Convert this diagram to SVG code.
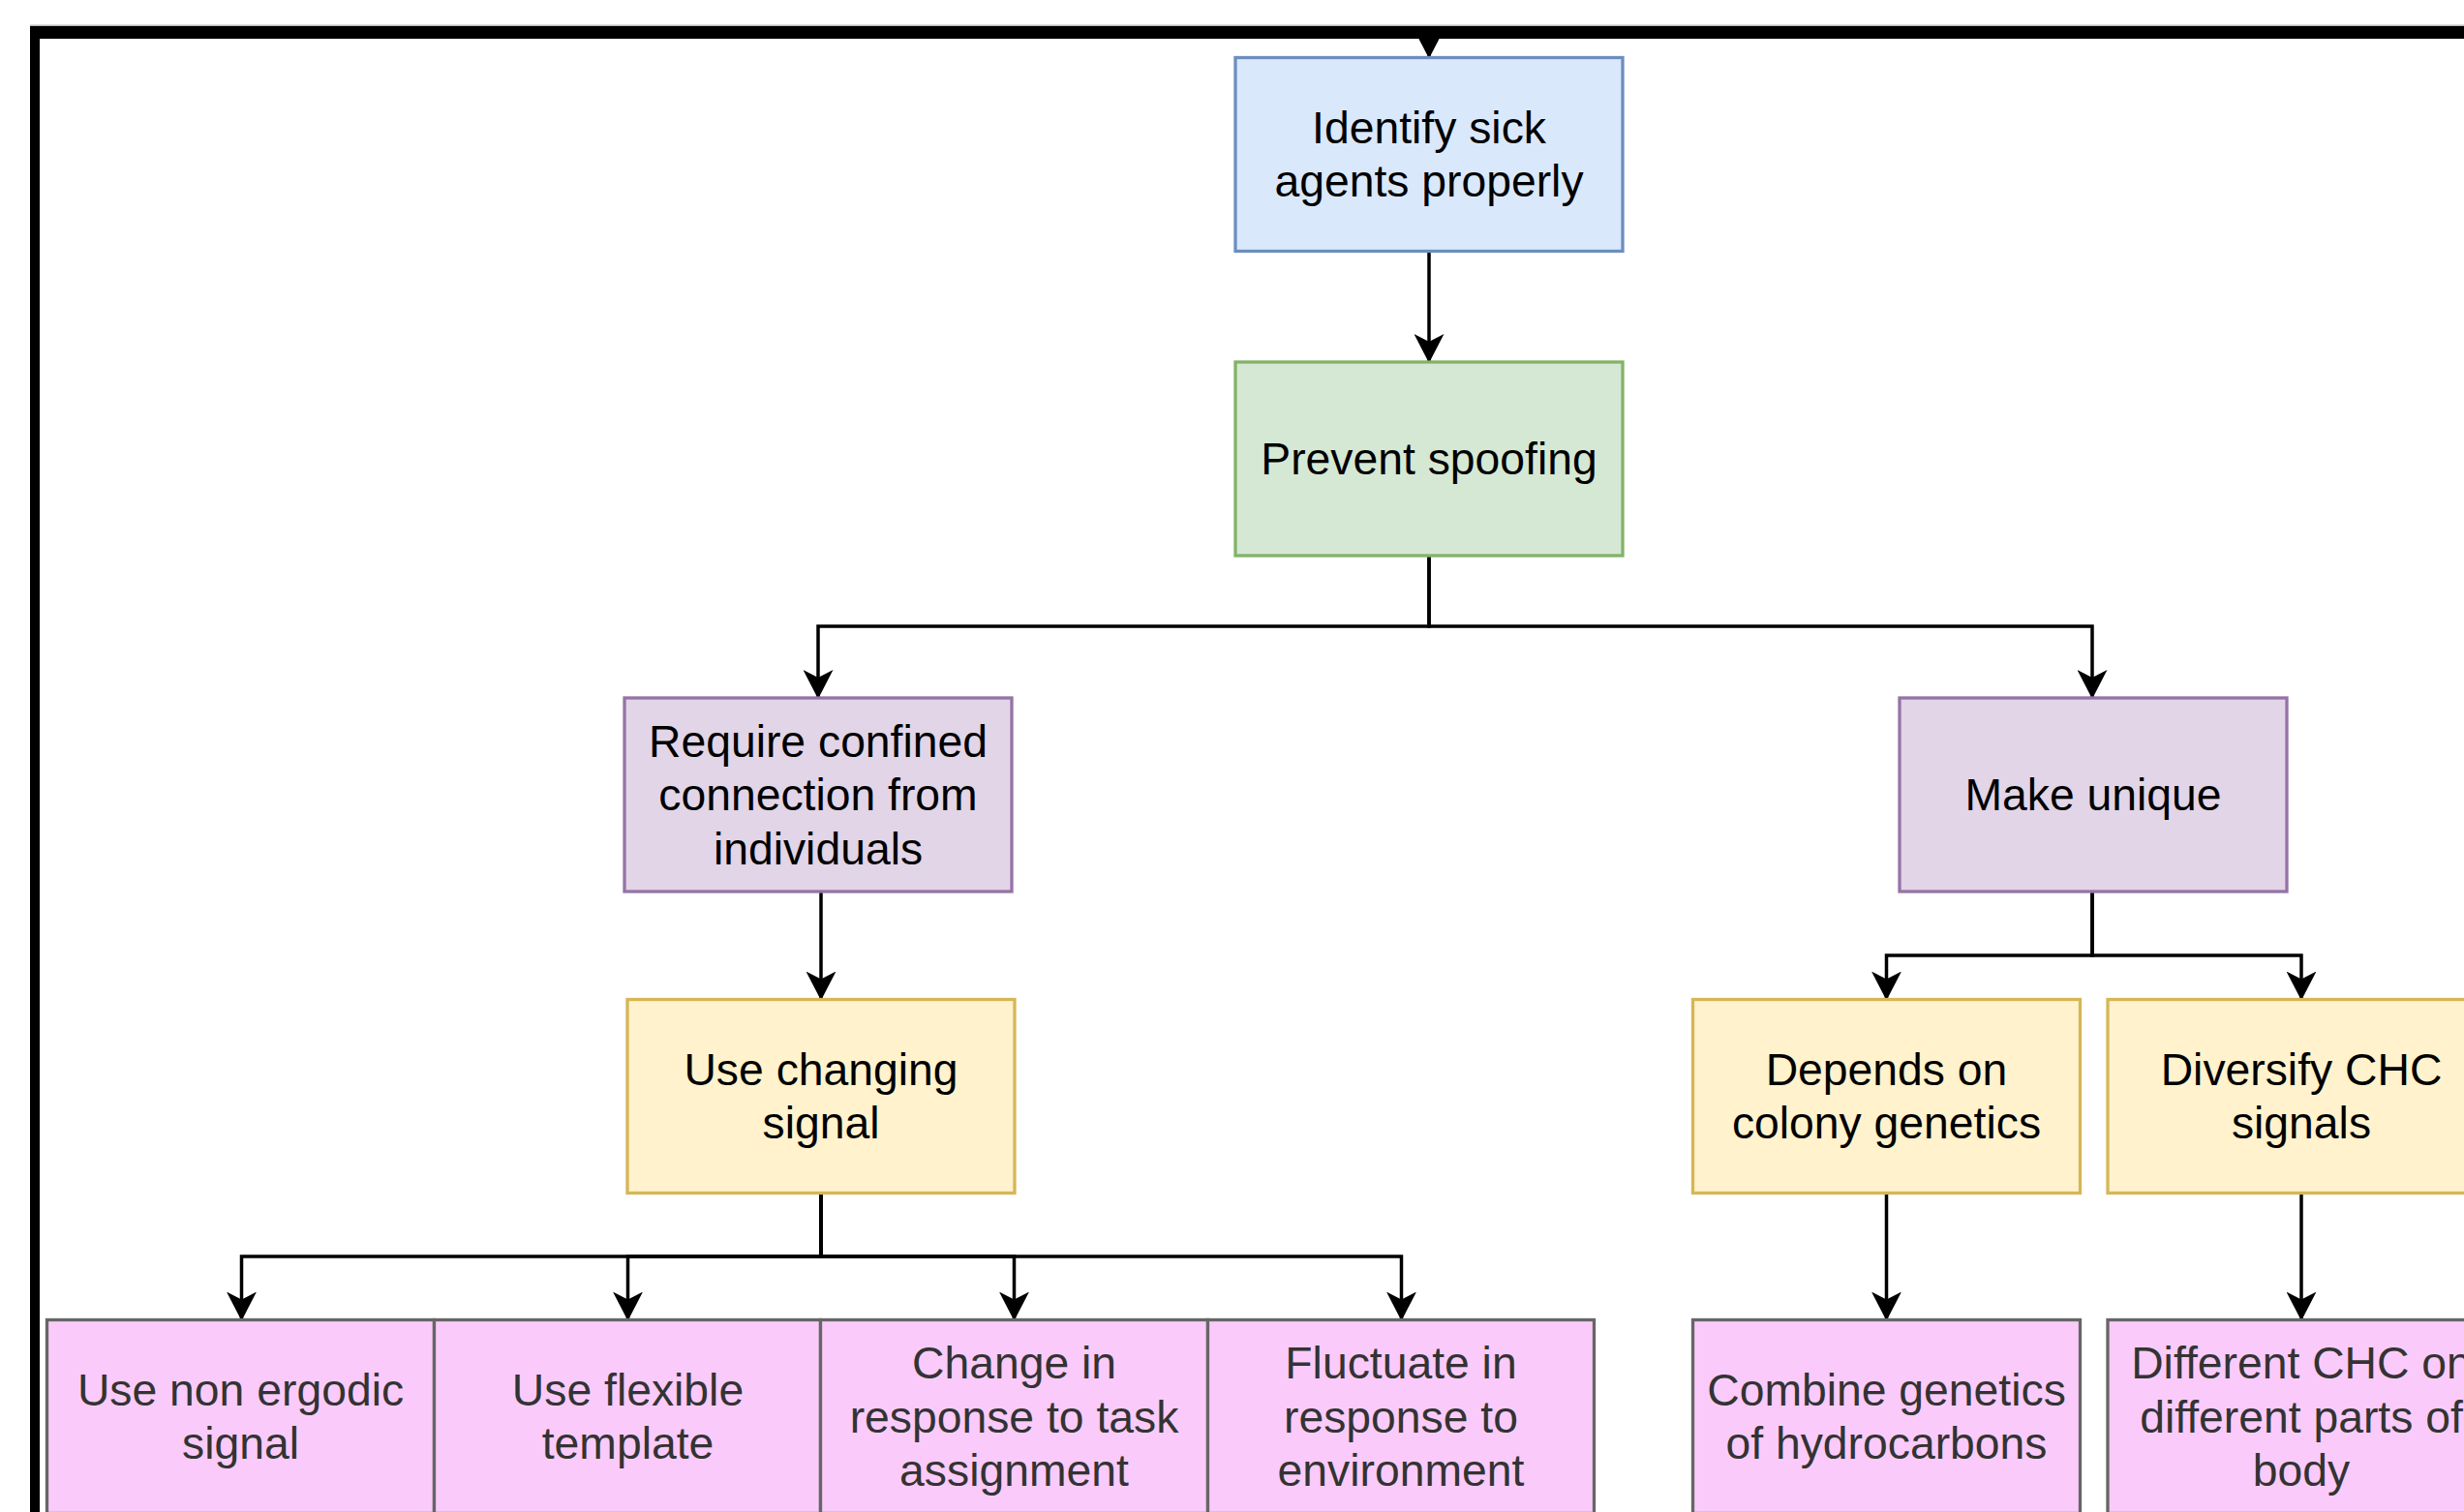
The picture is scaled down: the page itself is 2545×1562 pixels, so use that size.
<svg xmlns="http://www.w3.org/2000/svg" width="2545" height="1562" viewBox="0 0 2545 1562">
<style>
  .box { stroke-width: 3.3; }
  .blue { fill: #dae8fc; stroke: #6c8ebf; }
  .green { fill: #d5e8d4; stroke: #82b366; }
  .purple { fill: #e1d5e7; stroke: #9673a6; }
  .yellow { fill: #fff2cc; stroke: #d6b656; }
  .pink { fill: #facbfa; stroke: #666666; }
  .lbl { font-family: "Liberation Sans", Arial, Helvetica, sans-serif; font-size: 46.3px; text-anchor: middle; fill: #000000; }
  .lbl.dark { fill: #333333; }
  .edge { fill: none; stroke: #000000; stroke-width: 3.5; stroke-linejoin: miter; }
</style>
<defs>
  <marker id="arrow" markerUnits="userSpaceOnUse" markerWidth="30" markerHeight="31" viewBox="0 0 30 31" refX="29" refY="15.5" orient="auto">
    <path d="M30,15.5 L0,0 L8,15.5 L0,31 Z" fill="#000000"/>
  </marker>
</defs>
<rect x="0" y="0" width="2545" height="1562" fill="#ffffff"/>

<g id="connectors">
  <path class="edge" d="M1476,42 V59.5" marker-end="url(#arrow)"/>
  <path class="edge" d="M1476,259.5 V374" marker-end="url(#arrow)"/>
  <path class="edge" d="M1476,574 V647 H845 V721" marker-end="url(#arrow)"/>
  <path class="edge" d="M1476,574 V647 H2161 V721" marker-end="url(#arrow)"/>
  <path class="edge" d="M848,921 V1032.5" marker-end="url(#arrow)"/>
  <path class="edge" d="M2161,921 V987 H1948.5 V1032.5" marker-end="url(#arrow)"/>
  <path class="edge" d="M2161,921 V987 H2377 V1032.5" marker-end="url(#arrow)"/>
  <path class="edge" d="M848,1232.5 V1298 H249.5 V1363.5" marker-end="url(#arrow)"/>
  <path class="edge" d="M848,1232.5 V1298 H648.5 V1363.5" marker-end="url(#arrow)"/>
  <path class="edge" d="M848,1232.5 V1298 H1047.5 V1363.5" marker-end="url(#arrow)"/>
  <path class="edge" d="M848,1232.5 V1298 H1447.5 V1363.5" marker-end="url(#arrow)"/>
  <path class="edge" d="M1948.5,1232.5 V1363.5" marker-end="url(#arrow)"/>
  <path class="edge" d="M2377,1232.5 V1363.5" marker-end="url(#arrow)"/>
</g>

<g id="identify">
  <rect class="box blue" x="1276" y="59.5" width="400" height="200"/>
  <text class="lbl"><tspan x="1476" y="147.8">Identify sick</tspan><tspan x="1476" y="203.3">agents properly</tspan></text>
</g>
<g id="prevent">
  <rect class="box green" x="1276" y="374" width="400" height="200"/>
  <text class="lbl" x="1476" y="490">Prevent spoofing</text>
</g>
<g id="require">
  <rect class="box purple" x="645" y="721" width="400" height="200"/>
  <text class="lbl"><tspan x="845" y="781.5">Require confined</tspan><tspan x="845" y="837">connection from</tspan><tspan x="845" y="892.5">individuals</tspan></text>
</g>
<g id="make-unique">
  <rect class="box purple" x="1962" y="721" width="400" height="200"/>
  <text class="lbl" x="2162" y="837">Make unique</text>
</g>
<g id="use-changing">
  <rect class="box yellow" x="648" y="1032.5" width="400" height="200"/>
  <text class="lbl"><tspan x="848" y="1120.8">Use changing</tspan><tspan x="848" y="1176.3">signal</tspan></text>
</g>
<g id="depends">
  <rect class="box yellow" x="1748.5" y="1032.5" width="400" height="200"/>
  <text class="lbl"><tspan x="1948.5" y="1120.8">Depends on</tspan><tspan x="1948.5" y="1176.3">colony genetics</tspan></text>
</g>
<g id="diversify">
  <rect class="box yellow" x="2177" y="1032.5" width="400" height="200"/>
  <text class="lbl"><tspan x="2377" y="1120.8">Diversify CHC</tspan><tspan x="2377" y="1176.3">signals</tspan></text>
</g>
<g id="non-ergodic">
  <rect class="box pink" x="48.5" y="1363.5" width="400" height="200"/>
  <text class="lbl dark"><tspan x="248.5" y="1451.8">Use non ergodic</tspan><tspan x="248.5" y="1507.3">signal</tspan></text>
</g>
<g id="flexible">
  <rect class="box pink" x="448.5" y="1363.5" width="399" height="200"/>
  <text class="lbl dark"><tspan x="648.5" y="1451.8">Use flexible</tspan><tspan x="648.5" y="1507.3">template</tspan></text>
</g>
<g id="task">
  <rect class="box pink" x="847.5" y="1363.5" width="400" height="200"/>
  <text class="lbl dark"><tspan x="1047.5" y="1424">Change in</tspan><tspan x="1047.5" y="1479.5">response to task</tspan><tspan x="1047.5" y="1535">assignment</tspan></text>
</g>
<g id="environment">
  <rect class="box pink" x="1247.5" y="1363.5" width="399" height="200"/>
  <text class="lbl dark"><tspan x="1447" y="1424">Fluctuate in</tspan><tspan x="1447" y="1479.5">response to</tspan><tspan x="1447" y="1535">environment</tspan></text>
</g>
<g id="combine">
  <rect class="box pink" x="1748.5" y="1363.5" width="400" height="200"/>
  <text class="lbl dark"><tspan x="1948.5" y="1451.8">Combine genetics</tspan><tspan x="1948.5" y="1507.3">of hydrocarbons</tspan></text>
</g>
<g id="different">
  <rect class="box pink" x="2177" y="1363.5" width="400" height="200"/>
  <text class="lbl dark"><tspan x="2377" y="1424">Different CHC on</tspan><tspan x="2377" y="1479.5">different parts of</tspan><tspan x="2377" y="1535">body</tspan></text>
</g>

<g id="frame">
  <rect x="31" y="25.5" width="2514" height="1.5" fill="#bbbbbb"/>
  <rect x="31" y="27" width="2514" height="13" fill="#000000"/>
  <rect x="31" y="27" width="10" height="1535" fill="#000000"/>
</g>
</svg>
